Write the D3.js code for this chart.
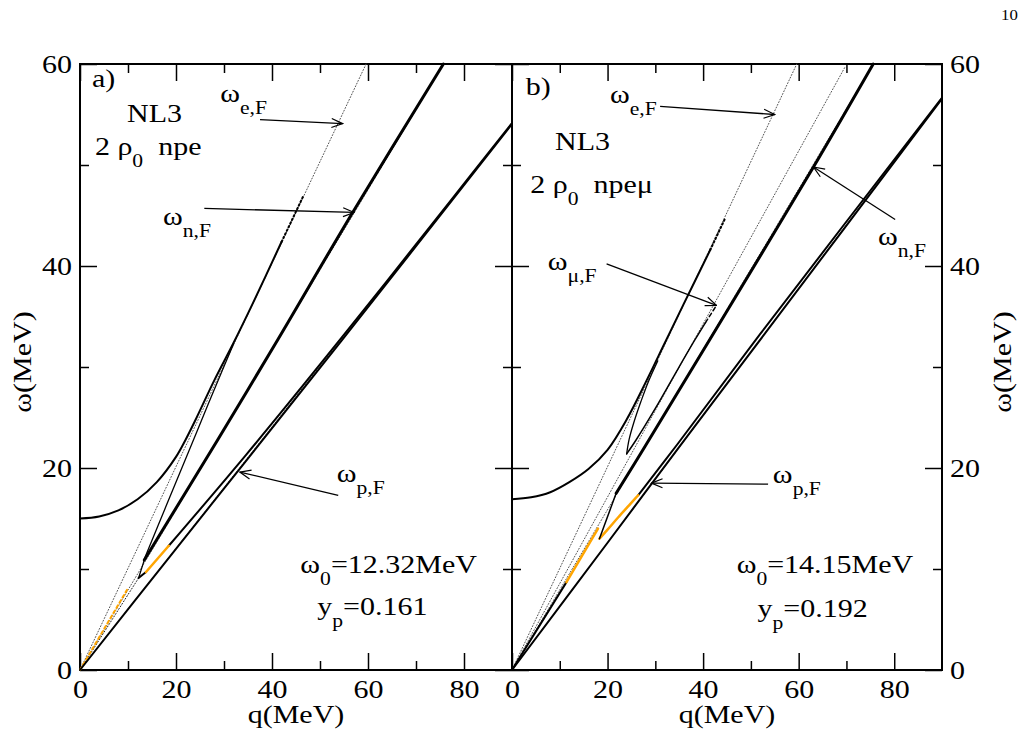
<!DOCTYPE html>
<html>
<head>
<meta charset="utf-8">
<script src="https://cdn.jsdelivr.net/npm/d3@7"></script>
<style>
  body { margin: 0; background: #fff; }
  text { font-family: "Liberation Serif", "Times New Roman", Times, serif; white-space: pre; }
</style>
</head>
<body>
<svg width="1027" height="742"></svg>
<script>

// tick values
const qMajor = [0, 20, 40, 60, 80];
const qMinor = [10, 30, 50, 70];
const wMajor = [0, 20, 40, 60];
const wMinor = [10, 30, 50];

// ---- panel a) npe  (q, omega) in MeV
const aFermiE = [[0, 0], [59.6, 60]];
const aFermiN = [[0, 0], [75.7, 60]];
const aFermiP = [[0, 0], [89.9, 54.1]];
const aCuspDot = [[0, 0], [12.2, 9.1]];
const aOrangeDash = [[0, 0], [10, 8.1]];
const aUpper = [[0, 15.0], [4, 15.2], [8, 15.8], [12, 16.9], [16, 18.6], [20, 21.1], [22, 22.8], [24, 24.7], [28, 28.7], [32, 32.4], [36, 36.3], [42, 42.4]];
const aHeavyDots = [[42, 42.4], [46.5, 46.9]];
const aThin = [[13.4, 11.0], [18, 16.3], [24, 23.2], [28, 27.8], [32, 32.3]];
const aN = [[13.4, 10.9], [28.7, 22.8], [41.2, 32.7], [56.8, 45.3], [75.7, 60]];
const aV = [[12.2, 9.1], [13.4, 10.9]];
const aPstart = [[12.2, 9.1], [13.75, 9.7]];
const aPorange = [[13.75, 9.7], [18.5, 12.3]];
const aPupper = [[18.5, 12.3], [34.6, 21.3], [54.5, 32.9], [77.1, 46.4], [89.9, 54.1]];
const aPlower = [[0, 0], [20, 12.0], [34.6, 20.7], [54.5, 32.6], [89.9, 54.0]];

// ---- panel b) npe mu
const bFermiE = [[0, 0], [59.6, 60]];
const bFermiMu = [[0, 0], [69.7, 59.7]];
const bFermiN = [[0, 0], [75.6, 60]];
const bFermiP = [[0, 0], [89.9, 56.6]];
const bUpper = [[0, 16.9], [4, 17.1], [8, 17.6], [12, 18.6], [16, 19.9], [20, 21.8], [24, 24.8], [28, 28.5], [32, 32.4], [36, 36.3], [41.5, 41.6]];
const bHeavyDots = [[41.5, 41.6], [44.5, 44.6]];
const bHook = [[24.0, 21.4], [24.5, 22.8], [25.5, 24.5], [27, 26.6], [28.5, 28.5], [30.5, 30.6]];
const bMu = [[24.0, 21.4], [26, 22.8], [30, 25.9], [34, 29.2], [38.3, 32.7], [40.5, 34.4]];
const bMuDash = [[40.5, 34.4], [42.8, 36.1]];
const bN = [[21.8, 17.5], [27.8, 22.1], [41.5, 32.8], [63.1, 49.8], [75.6, 60]];
const bV = [[18.3, 13.0], [21.8, 17.5]];
const bBlack0 = [[0, 0], [11.4, 8.7]];
const bOrange1 = [[11.4, 8.7], [18.0, 14.0]];
const bOrange2 = [[18.3, 13.0], [20, 13.9], [22.2, 15.1], [24.5, 16.3], [26.4, 17.3]];
const bPupper = [[26.4, 17.3], [34.7, 22.4], [52, 33.3], [89.9, 56.6]];
const bPlower = [[0, 0], [20, 12.6], [34.7, 21.9], [52.6, 33.1], [89.9, 56.5]];

// labels, placed in data units of their panel
const aNotes = [
  { q: 2.5, w: 57.7, parts: [['a)']] },
  { q: 9.8, w: 54.3, parts: [['NL3']] },
  { q: 3.1, w: 51.0, parts: [['2 ρ'], ['0', 's'], ['  npe']] },
  { q: 29.2, w: 56.2, parts: [['ω'], ['e,F', 's']] },
  { q: 17.3, w: 44.1, parts: [['ω'], ['n,F', 's']] },
  { q: 53.5, w: 18.6, parts: [['ω'], ['p,F', 's']] },
  { q: 64.3, w: 9.6, parts: [['ω'], ['0', 's'], ['=12.32MeV']], mid: true },
  { q: 60.9, w: 5.4, parts: [['y'], ['p', 's'], ['=0.161']], mid: true }
];
const aArrows = [
  [[37.5, 54.5], [54.7, 54.1]],
  [[25.9, 45.7], [57.1, 45.3]],
  [[53.8, 17.3], [33.3, 19.6]]
];
const bNotes = [
  { q: 2.9, w: 56.9, parts: [['b)']] },
  { q: 9.0, w: 51.5, parts: [['NL3']] },
  { q: 3.8, w: 47.2, parts: [['2 ρ'], ['0', 's'], ['  npeμ']] },
  { q: 20.5, w: 56.1, parts: [['ω'], ['e,F', 's']] },
  { q: 7.5, w: 39.6, parts: [['ω'], ['μ,F', 's']] },
  { q: 76.6, w: 42.1, parts: [['ω'], ['n,F', 's']] },
  { q: 54.6, w: 18.5, parts: [['ω'], ['p,F', 's']] },
  { q: 65.5, w: 9.6, parts: [['ω'], ['0', 's'], ['=14.15MeV']], mid: true },
  { q: 62.9, w: 5.2, parts: [['y'], ['p', 's'], ['=0.192']], mid: true }
];
const bArrows = [
  [[31.0, 55.8], [55.0, 55.0]],
  [[19.8, 40.2], [42.8, 36.1]],
  [[80.2, 44.6], [63.1, 49.8]],
  [[53.6, 18.4], [29.2, 18.5]]
];

const SX = 1.2;      // the original font is drawn wider than Times
const FS = 25;
const FONT = '"Liberation Serif", "Times New Roman", Times, serif';
const ORANGE = '#ffa500';

let svg = d3.select('svg');

svg.append('defs').append('marker')
  .attr('id', 'arr')
  .attr('viewBox', '-1 -6 13 12')
  .attr('refX', 11).attr('refY', 0)
  .attr('markerWidth', 13).attr('markerHeight', 12)
  .attr('markerUnits', 'userSpaceOnUse')
  .attr('orient', 'auto')
  .append('path')
  .attr('d', 'M0,-4.5 L11,0 L0,4.5')
  .attr('fill', 'none').attr('stroke', '#000').attr('stroke-width', 1.2);

let y = d3.scaleLinear().domain([0, 60]).range([670, 64]);
let xa = d3.scaleLinear().domain([0, 90]).range([80, 512]);
let xb = d3.scaleLinear().domain([0, 90]).range([512, 942]);

let stretch = sel => {
  sel.each(function () {
    let t = d3.select(this);
    let x = +t.attr('x') || 0, yy = +t.attr('y') || 0;
    t.attr('x', null).attr('y', null)
      .attr('transform', 'translate(' + x + ',' + yy + ') scale(' + SX + ',1)');
  });
};

let drawAxes = (x, showLeft, showRight) => {
  let g = svg.append('g');
  let [xl, xr] = x.range();
  let fmt = d3.format('d');
  g.append('g').attr('transform', 'translate(0,' + y(0) + ')')
    .call(d3.axisBottom(x).tickValues(qMajor).tickSize(-17).tickPadding(10).tickFormat(fmt));
  g.append('g').attr('transform', 'translate(0,' + y(0) + ')')
    .call(d3.axisBottom(x).tickValues(qMinor).tickSize(-9).tickFormat(''));
  g.append('g').attr('transform', 'translate(0,' + y(60) + ')')
    .call(d3.axisTop(x).tickValues(qMajor).tickSize(-17).tickFormat(''));
  g.append('g').attr('transform', 'translate(0,' + y(60) + ')')
    .call(d3.axisTop(x).tickValues(qMinor).tickSize(-9).tickFormat(''));
  g.append('g').attr('transform', 'translate(' + xl + ',0)')
    .call(d3.axisLeft(y).tickValues(wMajor).tickSize(-17).tickPadding(8).tickFormat(showLeft ? fmt : ''));
  g.append('g').attr('transform', 'translate(' + xl + ',0)')
    .call(d3.axisLeft(y).tickValues(wMinor).tickSize(-9).tickFormat(''));
  g.append('g').attr('transform', 'translate(' + xr + ',0)')
    .call(d3.axisRight(y).tickValues(wMajor).tickSize(-17).tickPadding(8).tickFormat(showRight ? fmt : ''));
  g.append('g').attr('transform', 'translate(' + xr + ',0)')
    .call(d3.axisRight(y).tickValues(wMinor).tickSize(-9).tickFormat(''));

  g.selectAll('.domain').remove();
  g.selectAll('.tick line').attr('stroke', '#000').attr('stroke-width', 1.5);
  g.selectAll('g').attr('font-family', FONT).attr('font-size', null);
  let tt = g.selectAll('.tick text').attr('font-size', FS).attr('fill', '#000');
  stretch(tt);

  svg.append('rect')
    .attr('x', xl).attr('y', y(60))
    .attr('width', xr - xl).attr('height', y(0) - y(60))
    .attr('fill', 'none').attr('stroke', '#000').attr('stroke-width', 2);

  // axis title q
  svg.append('text')
    .attr('font-family', FONT)
    .attr('text-anchor', 'middle').attr('font-size', FS)
    .attr('transform', 'translate(' + ((xl + xr) / 2) + ',723) scale(' + SX + ',1)')
    .text('q(MeV)');
};

let drawLine = (x, data, stroke, width, dash) => {
  let line = d3.line().x(d => x(d[0])).y(d => y(d[1])).curve(d3.curveCatmullRom.alpha(0.5));
  svg.append('path')
    .attr('d', line(data))
    .attr('fill', 'none')
    .attr('stroke', stroke)
    .attr('stroke-width', width)
    .attr('stroke-linecap', 'round')
    .attr('stroke-dasharray', dash || null);
};

let drawNotes = (x, notes, arrows) => {
  notes.forEach(n => {
    let t = svg.append('text')
      .attr('font-family', FONT)
      .attr('font-size', FS)
      .attr('text-anchor', n.mid ? 'middle' : 'start')
      .attr('transform', 'translate(' + x(n.q) + ',' + y(n.w) + ') scale(' + SX + ',1)');
    let down = false;
    n.parts.forEach(p => {
      let s = t.append('tspan').text(p[0]);
      if (p[1] === 's') { s.attr('font-size', 18).attr('dy', 12); down = true; }
      else if (down) { s.attr('dy', -12); down = false; }
    });
  });
  arrows.forEach(a => {
    svg.append('line')
      .attr('x1', x(a[0][0])).attr('y1', y(a[0][1]))
      .attr('x2', x(a[1][0])).attr('y2', y(a[1][1]))
      .attr('stroke', '#000').attr('stroke-width', 1.3)
      .attr('marker-end', 'url(#arr)');
  });
};

const DOT = '1,2';
const DOTC = '#555';

// ---------- panel a
drawAxes(xa, true, false);
drawLine(xa, aFermiE, DOTC, 1, DOT);
drawLine(xa, aFermiN, DOTC, 1, DOT);
drawLine(xa, aFermiP, DOTC, 1, DOT);
drawLine(xa, aCuspDot, '#222', 1, DOT);
drawLine(xa, aOrangeDash, ORANGE, 2, '3,3');
drawLine(xa, aPlower, '#000', 2);
drawLine(xa, aPupper, '#000', 2);
drawLine(xa, aPstart, '#000', 2);
drawLine(xa, aPorange, ORANGE, 2.5);
drawLine(xa, aV, '#000', 1.3);
drawLine(xa, aN, '#000', 3);
drawLine(xa, aThin, '#000', 1.3);
drawLine(xa, aUpper, '#000', 2);
drawLine(xa, aHeavyDots, '#000', 2, '1.5,2.5');
drawNotes(xa, aNotes, aArrows);

// ---------- panel b
drawAxes(xb, false, true);
drawLine(xb, bFermiE, DOTC, 1, DOT);
drawLine(xb, bFermiMu, DOTC, 1, DOT);
drawLine(xb, bFermiN, DOTC, 1, DOT);
drawLine(xb, bFermiP, DOTC, 1, DOT);
drawLine(xb, bPlower, '#000', 2);
drawLine(xb, bPupper, '#000', 2);
drawLine(xb, bBlack0, '#000', 2);
drawLine(xb, bOrange1, ORANGE, 2.5);
drawLine(xb, bOrange2, ORANGE, 2.5);
drawLine(xb, bV, '#000', 1.5);
drawLine(xb, bN, '#000', 3);
drawLine(xb, bMu, '#000', 1.5);
drawLine(xb, bMuDash, '#000', 1.5, '4,3');
drawLine(xb, bHook, '#000', 1.3);
drawLine(xb, bUpper, '#000', 2);
drawLine(xb, bHeavyDots, '#000', 2, '1.5,2.5');
drawNotes(xb, bNotes, bArrows);

// y titles
svg.append('text')
  .attr('font-family', FONT)
  .attr('text-anchor', 'middle').attr('font-size', FS)
  .attr('transform', 'translate(31,' + y(30.5) + ') rotate(-90) scale(' + SX + ',1)')
  .text('ω(MeV)');
svg.append('text')
  .attr('font-family', FONT)
  .attr('text-anchor', 'middle').attr('font-size', FS)
  .attr('transform', 'translate(1011,' + y(30.5) + ') rotate(-90) scale(' + SX + ',1)')
  .text('ω(MeV)');

// page number
svg.append('text')
  .attr('font-family', FONT)
  .attr('font-size', 14)
  .attr('transform', 'translate(1001,20) scale(' + SX + ',1)')
  .text('10');

</script>
</body>
</html>
